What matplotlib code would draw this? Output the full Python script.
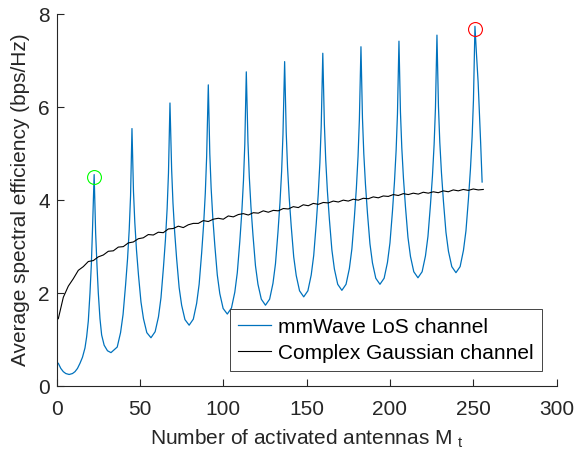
import numpy as np
import matplotlib
matplotlib.use('Agg')
import matplotlib.pyplot as plt

# Fuente parecida a Helvetica (estilo MATLAB)
plt.rcParams['font.family'] = ['Liberation Sans', 'DejaVu Sans']
plt.rcParams['mathtext.fontset'] = 'custom'
plt.rcParams['mathtext.rm'] = 'Liberation Sans'
plt.rcParams['mathtext.it'] = 'Liberation Sans'

# Canal mmWave LoS (lobulo por lobulo)
mm_x = [1, 2.5, 4, 5.5, 7.5, 9.5, 11, 12.5, 14, 15.5, 17, 18, 19, 20, 20.8, 21.5,
        22.5, 23.4, 24.2, 25.0, 26.0, 27.0, 28.5, 30.5, 32.6,
        36.35, 38.35, 39.85, 41.35, 42.55, 43.55, 44.35,
        45.2, 46.1, 46.9, 47.9, 49.1, 50.6, 52.1, 54.1, 56.6,
        59.1, 61.1, 62.6, 64.1, 65.3, 66.3, 67.1,
        68.0, 69.0, 69.8, 70.8, 72.0, 73.5, 75.0, 77.0, 79.5,
        82.0, 84.0, 85.5, 87.0, 88.2, 89.2, 90.0,
        91.0, 91.9, 92.7, 93.7, 94.9, 96.4, 97.9, 99.9, 102.4,
        104.9, 106.9, 108.4, 109.9, 111.1, 112.1, 112.9,
        113.8, 114.8, 115.6, 116.6, 117.8, 119.3, 120.8, 122.8, 125.3,
        127.8, 129.8, 131.3, 132.8, 134.0, 135.0, 135.8,
        136.8, 137.75, 138.55, 139.55, 140.75, 142.25, 143.75, 145.75, 148.25,
        150.75, 152.75, 154.25, 155.75, 156.95, 157.95, 158.75,
        159.7, 160.65, 161.45, 162.45, 163.65, 165.15, 166.65, 168.65, 171.15,
        173.65, 175.65, 177.15, 178.65, 179.85, 180.85, 181.65,
        182.6, 183.5, 184.3, 185.3, 186.5, 188.0, 189.5, 191.5, 194.0,
        196.5, 198.5, 200.0, 201.5, 202.7, 203.7, 204.5,
        205.4, 206.3, 207.1, 208.1, 209.3, 210.8, 212.3, 214.3, 216.8,
        219.3, 221.3, 222.8, 224.3, 225.5, 226.5, 227.3,
        228.2, 229.1, 229.9, 230.9, 232.1, 233.6, 235.1, 237.1, 239.6,
        242.1, 244.1, 245.6, 247.1, 248.3, 249.3, 250.1,
        251.0, 251.9, 252.9, 254.4, 255.3]
mm_y = [0.49, 0.38, 0.31, 0.27, 0.25, 0.27, 0.31, 0.38, 0.49, 0.62, 0.82, 1.06, 1.40, 2.00, 2.60, 3.35,
        4.55, 3.29, 2.60, 2.00, 1.45, 1.10, 0.88, 0.76, 0.72,
        0.84, 1.15, 1.54, 2.17, 2.74, 3.37, 4.09,
        5.54, 4.19, 3.52, 2.93, 2.39, 1.81, 1.45, 1.15, 1.04,
        1.17, 1.49, 1.90, 2.56, 3.16, 3.82, 4.58,
        6.09, 4.66, 3.94, 3.32, 2.74, 2.12, 1.74, 1.43, 1.31,
        1.44, 1.78, 2.19, 2.86, 3.48, 4.15, 4.93,
        6.48, 5.00, 4.26, 3.62, 3.03, 2.39, 1.99, 1.67, 1.55,
        1.68, 2.02, 2.44, 3.11, 3.74, 4.42, 5.20,
        6.76, 5.25, 4.50, 3.85, 3.25, 2.59, 2.19, 1.87, 1.74,
        1.87, 2.21, 2.63, 3.31, 3.94, 4.62, 5.41,
        6.98, 5.46, 4.70, 4.05, 3.44, 2.78, 2.38, 2.05, 1.92,
        2.05, 2.39, 2.81, 3.49, 4.12, 4.80, 5.59,
        7.16, 5.63, 4.87, 4.20, 3.59, 2.93, 2.52, 2.19, 2.06,
        2.19, 2.53, 2.95, 3.63, 4.26, 4.94, 5.73,
        7.30, 5.77, 5.00, 4.34, 3.72, 3.06, 2.65, 2.32, 2.19,
        2.32, 2.66, 3.08, 3.76, 4.39, 5.07, 5.85,
        7.42, 5.89, 5.13, 4.47, 3.86, 3.20, 2.79, 2.46, 2.33,
        2.46, 2.80, 3.22, 3.90, 4.52, 5.20, 5.98,
        7.55, 6.02, 5.25, 4.59, 3.97, 3.31, 2.90, 2.57, 2.44,
        2.57, 2.92, 3.34, 4.03, 4.67, 5.36, 6.15,
        7.74, 7.15, 6.54, 5.25, 4.39]

# Canal gaussiano complejo (cada 3 antenas)
cg_x = np.arange(1, 257, 3)
cg_y = [1.45, 1.91, 2.15, 2.31, 2.49, 2.57, 2.68, 2.70, 2.78, 2.82,
        2.90, 2.91, 2.99, 3.00, 3.08, 3.10, 3.17, 3.19, 3.26, 3.25,
        3.31, 3.30, 3.38, 3.39, 3.44, 3.41, 3.47, 3.50, 3.50, 3.56,
        3.54, 3.59, 3.61, 3.59, 3.66, 3.64, 3.69, 3.71, 3.68, 3.73,
        3.72, 3.77, 3.74, 3.78, 3.77, 3.82, 3.81, 3.86, 3.84, 3.90,
        3.88, 3.93, 3.91, 3.95, 3.94, 3.98, 3.96, 4.00, 3.98, 4.02,
        4.00, 4.04, 4.03, 4.07, 4.05, 4.09, 4.08, 4.12, 4.10, 4.14,
        4.12, 4.15, 4.13, 4.17, 4.15, 4.18, 4.16, 4.20, 4.18, 4.22,
        4.20, 4.23, 4.21, 4.24, 4.22, 4.23]

# Puntos marcados
mark_min = (22.5, 4.50)
mark_max = (251.0, 7.69)

fig = plt.figure(figsize=(5.78, 4.58), dpi=100)
ax = fig.add_axes([0.098, 0.157, 0.865, 0.812])

ax.plot(mm_x, mm_y, color='#0072BD', lw=0.9, label='mmWave LoS channel')
ax.plot(cg_x, cg_y, color='black', lw=0.8, label='Complex Gaussian channel')
ax.plot(*mark_min, 'o', ms=10, mfc='none', mec=(0, 1, 0), mew=0.8)
ax.plot(*mark_max, 'o', ms=10, mfc='none', mec='red', mew=0.8)

ax.set_xlim(0, 300)
ax.set_ylim(0, 8)
ax.set_xticks(range(0, 301, 50))
ax.set_yticks(range(0, 9, 2))

gris = '#262626'
for s in ['top', 'right']:
    ax.spines[s].set_visible(False)
for s in ['left', 'bottom']:
    ax.spines[s].set_color(gris)
    ax.spines[s].set_linewidth(0.8)
ax.tick_params(direction='in', length=5, width=0.8, colors=gris, labelsize=15)
ax.tick_params(axis='x', pad=10)
ax.tick_params(axis='y', pad=5)

ax.set_xlabel('Number of activated antennas M $_{t}$', fontsize=15, color=gris,
              labelpad=6)
ax.set_ylabel('Average spectral efficiency (bps/Hz)', fontsize=15, color=gris,
              labelpad=6)

leg = ax.legend(loc='lower right', fontsize=15, fancybox=False, framealpha=1,
                edgecolor=gris, handlelength=1.6, handletextpad=0.3,
                borderaxespad=0.72, borderpad=0.4, labelspacing=0.34)
leg.get_frame().set_linewidth(0.6)

fig.savefig('out.png', dpi=100)
